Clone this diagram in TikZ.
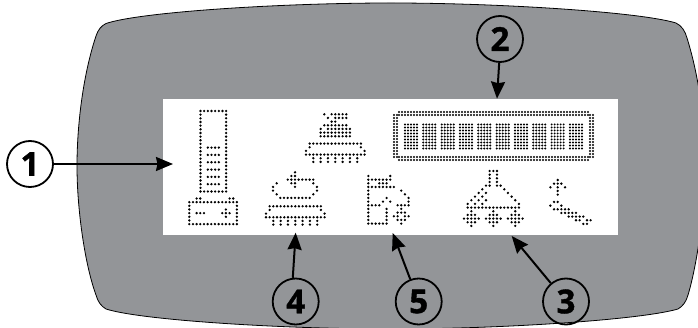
\documentclass[tikz,border=0pt]{standalone}
\usepackage{fontspec}
\usetikzlibrary{arrows.meta}
\newfontfamily\numfont{Open Sans}[BoldFeatures={FakeBold=1.2}]
\definecolor{panelgray}{RGB}{147,149,152}
\tikzset{
    numcircle/.style={draw=black, circle, line width=1.8pt, minimum size=46pt, inner sep=0pt, font=\numfont\bfseries\fontsize{33}{33}\selectfont},
    callout/.style={line width=2pt, -{Stealth[inset=1.5pt, length=17pt, width=14pt]}}
}
\newcommand{\lcdpitch}{3.66pt}
\newcommand{\lcddot}{1.3pt}
% one row of the list is row/first column/last column
\newcommand{\lcdicon}[3]{
    \begin{scope}[shift={(#1,#2)}, x=\lcdpitch, y=-\lcdpitch]
        \foreach \dotrow/\dotfrom/\dotto in {#3} {
            \foreach \dotcol in {\dotfrom,...,\dotto} {
                \fill (\dotcol,\dotrow) circle (\lcddot);
            }
        }
    \end{scope}
}
\newcommand{\lcdbase}[2]{
    \lcdicon{#1}{#2}{8/1/15, 9/1/1, 9/15/15, 10/0/0, 10/16/16, 11/0/16,
        12/2/2, 12/4/4, 12/6/6, 12/8/8, 12/10/10, 12/12/12, 12/14/14,
        13/2/2, 13/4/4, 13/6/6, 13/8/8, 13/10/10, 13/12/12, 13/14/14}
}
\begin{document}
\begin{tikzpicture}[x=1pt, y=-1pt]
    \useasboundingbox (0,0) rectangle (698,328);
    \clip (0,0) rectangle (698,328);

    % panel and screen
    \fill[white] (0,0) rectangle (698,328);
    \draw[fill=panelgray, line width=0.8pt] (106,23.5)
        .. controls (140,12) and (280,3) .. (391,3)
        .. controls (500,3) and (640,12) .. (676,23)
        .. controls (682,26) and (685,31) .. (687,38)
        .. controls (700,80) and (705,125) .. (705,166)
        .. controls (705,210) and (697,265) .. (688,295)
        .. controls (686,302) and (683,306) .. (678,309)
        .. controls (640,320) and (500,329) .. (391,329)
        .. controls (280,329) and (140,320) .. (106,309)
        .. controls (101,306) and (98,302) .. (96,295)
        .. controls (85,265) and (77,210) .. (77,166)
        .. controls (77,125) and (83,75) .. (96,36)
        .. controls (98,30) and (101,26) .. (106,23.5) -- cycle;
    \fill[white] (163,99) rectangle (618,235);

    % level bar and battery
    \lcdicon{200.5}{111}{0/0/7, 22/0/7, 10/2/5, 12/2/5, 14/2/5, 16/2/5, 18/2/5, 20/2/5}
    \foreach \i in {1,...,21} {
        \lcdicon{200.5}{111}{\i/0/0, \i/7/7}
    }
    \lcdicon{189.3}{198.5}{0/2/3, 0/11/12, 1/0/13, 2/0/0, 2/13/13, 3/0/0, 3/10/10, 3/13/13,
        4/0/0, 4/2/4, 4/9/11, 4/13/13, 5/0/0, 5/10/10, 5/13/13, 6/0/0, 6/13/13, 7/0/13}

    % upper brush
    \lcdicon{306}{114.3}{0/5/5, 0/7/11, 1/6/6, 1/8/11, 2/7/8, 3/5/11, 4/4/4, 4/6/12, 5/4/12, 6/4/12}
    \lcdbase{306}{114.3}

    % lower brush and return arrow
    \lcdicon{295}{172.3}{0/0/0, 1/-1/0, 2/-2/5, 3/-1/0, 3/-5/-5, 3/5/5, 4/0/0, 4/-6/-6, 4/6/6,
        5/-6/-6, 5/6/6, 6/-5/-5, 6/5/5, 7/-4/4}
    \lcdbase{266}{177}

    % bar display, on a finer grid
    \begin{scope}
        \renewcommand{\lcdpitch}{3pt}
        \renewcommand{\lcddot}{1.1pt}
        \lcdicon{399}{112}{0/0/63, 1/0/63, 15/0/63, 16/0/63}
        \foreach \i in {1,...,15} {
            \lcdicon{394}{112}{\i/0/1}
            \lcdicon{590}{112}{\i/0/1}
        }
        \foreach \i in {0,...,9} {
            \lcdicon{405+18.33*\i}{124.5}{0/0/4, 1/0/4, 2/0/4, 3/0/4, 4/0/4, 5/0/4, 6/0/4, 7/0/4, 8/0/4}
        }
    \end{scope}

    % house with flower
    \lcdicon{368.3}{176}{0/0/0, 0/6/6, 1/0/6, 2/0/0, 2/3/5, 3/0/7, 4/0/0, 4/9/9, 5/0/0, 5/10/10,
        6/0/0, 6/5/5, 6/11/11, 7/0/0, 7/4/4, 7/6/6, 7/11/11, 8/0/3, 8/8/11,
        9/0/0, 9/5/5, 9/9/9, 10/0/0, 10/5/5, 10/8/10, 11/0/0, 11/5/5, 11/7/8, 11/10/11,
        12/0/0, 12/5/5, 12/8/10, 13/0/5, 13/9/9}

    % hood with three feet
    \lcdicon{493.3}{171}{0/-1/1, 1/-1/-1, 1/1/1, 2/-1/-1, 2/1/1, 3/-1/-1, 3/1/1, 4/-2/-1, 4/1/2,
        5/-3/-3, 5/3/3, 6/-4/-4, 6/-2/-2, 6/4/4, 7/-5/-5, 7/-3/-3, 7/5/5, 8/-6/-6, 8/-4/-4, 8/-2/-2, 8/6/6,
        9/-7/-7, 9/-5/-5, 9/-3/-3, 9/7/7, 10/-7/7}
    \foreach \i in {-6,0,6} {
        \lcdicon{493.3+3.66*\i}{171}{11/0/0, 12/-1/1, 13/-2/2, 14/-1/1, 15/0/0}
    }

    % small arrow and tool
    \lcdicon{557.7}{180}{0/0/0, 1/-1/1, 2/-2/-2, 2/0/0, 2/2/2, 3/0/0, 4/0/0,
        6/-1/0, 7/-2/-2, 7/1/1, 8/-1/3, 9/1/5, 10/3/7, 11/5/6, 11/8/9, 12/7/8}

    % numbered callouts
    \node[numcircle] (num1) at (30,164) {1};
    \node[numcircle] (num2) at (500,39) {2};
    \node[numcircle] (num3) at (566,301.5) {3};
    \node[numcircle] (num4) at (295.7,301.5) {4};
    \node[numcircle] (num5) at (418.7,301.5) {5};
    \coordinate (tip1) at (173,164);
    \coordinate (tip2) at (497,98.7);
    \coordinate (tip3) at (511.7,236);
    \coordinate (tip4) at (295.7,232.7);
    \coordinate (tip5) at (392.7,233);
    \draw[callout] (num1) -- (tip1);
    \draw[callout] (num2.268) -- (tip2);
    \draw[callout] (num3) -- (tip3);
    \draw[callout] (num4.97) -- (tip4);
    \draw[callout] (num5) -- (tip5);
\end{tikzpicture}
\end{document}
